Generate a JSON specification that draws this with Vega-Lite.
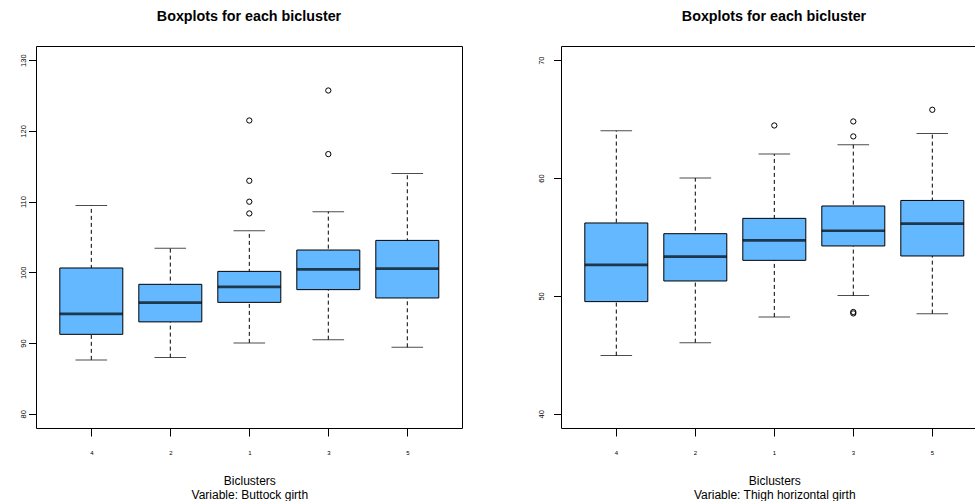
{
  "$schema": "https://vega.github.io/schema/vega-lite/v6.json",
  "background": "white",
  "padding": {"left": 19, "top": 9, "right": 0, "bottom": 0},
  "bounds": "flush",
  "spacing": 99,
  "config": {
    "font": "Liberation Sans",
    "view": {"stroke": "black", "strokeWidth": 1},
    "axis": {
      "grid": false,
      "domain": false,
      "tickColor": "black",
      "tickWidth": 1,
      "labelColor": "black",
      "titleColor": "black",
      "labelFont": "Liberation Sans",
      "titleFont": "Liberation Sans",
      "titleFontWeight": "normal"
    },
    "title": {"font": "Liberation Sans", "fontSize": 14.3, "fontWeight": "bold", "color": "black", "baseline": "alphabetic", "offset": 22}
  },
  "datasets": {
    "buttock": [
      {"cluster": "4", "lower": 87.63, "q1": 91.24, "median": 94.12, "q3": 100.62, "upper": 109.46},
      {"cluster": "2", "lower": 87.95, "q1": 93.0, "median": 95.72, "q3": 98.31, "upper": 103.4},
      {"cluster": "1", "lower": 90.03, "q1": 95.76, "median": 97.94, "q3": 100.14, "upper": 105.89},
      {"cluster": "3", "lower": 90.49, "q1": 97.56, "median": 100.42, "q3": 103.16, "upper": 108.57},
      {"cluster": "5", "lower": 89.41, "q1": 96.38, "median": 100.52, "q3": 104.52, "upper": 113.98}
    ],
    "buttockOut": [
      {"cluster": "1", "value": 121.47},
      {"cluster": "1", "value": 112.95},
      {"cluster": "1", "value": 109.99},
      {"cluster": "1", "value": 108.33},
      {"cluster": "3", "value": 125.71},
      {"cluster": "3", "value": 116.72}
    ],
    "thigh": [
      {"cluster": "4", "lower": 44.94, "q1": 49.52, "median": 52.63, "q3": 56.19, "upper": 64.01},
      {"cluster": "2", "lower": 46.04, "q1": 51.27, "median": 53.33, "q3": 55.28, "upper": 60.0},
      {"cluster": "1", "lower": 48.22, "q1": 53.02, "median": 54.71, "q3": 56.58, "upper": 62.03},
      {"cluster": "3", "lower": 50.03, "q1": 54.24, "median": 55.53, "q3": 57.63, "upper": 62.82},
      {"cluster": "5", "lower": 48.5, "q1": 53.39, "median": 56.13, "q3": 58.1, "upper": 63.78}
    ],
    "thighOut": [
      {"cluster": "1", "value": 64.46},
      {"cluster": "3", "value": 64.8},
      {"cluster": "3", "value": 63.53},
      {"cluster": "3", "value": 48.64},
      {"cluster": "3", "value": 48.52},
      {"cluster": "5", "value": 65.79}
    ]
  },
  "hconcat": [
    {
      "width": 426,
      "height": 382,
      "title": {"text": "Boxplots for each bicluster"},
      "data": {"name": "buttock"},
      "encoding": {
        "x": {
          "field": "cluster",
          "type": "ordinal",
          "sort": ["4", "2", "1", "3", "5"],
          "scale": {"type": "point", "range": [55.3, 371.3], "padding": 0},
          "axis": {
            "title": ["Biclusters", "Variable: Buttock girth"],
            "titleFontSize": 12,
            "titleLineHeight": 13.5,
            "titlePadding": 20.5,
            "labelFontSize": 6,
            "labelAngle": 0,
            "labelPadding": 13,
            "tickSize": 8
          }
        }
      },
      "layer": [
        {
          "mark": {"type": "rule", "color": "black", "strokeWidth": 1, "strokeDash": [4, 3]},
          "encoding": {
            "y": {
              "field": "lower",
              "type": "quantitative",
              "scale": {"domain": [78, 132], "nice": false, "zero": false},
              "axis": {
                "title": null,
                "values": [80, 90, 100, 110, 120, 130],
                "labelAngle": 270,
                "labelAlign": "center",
                "labelBaseline": "alphabetic",
                "labelFontSize": 7.5,
                "labelPadding": 3,
                "tickSize": 7.5
              }
            },
            "y2": {"field": "upper"}
          }
        },
        {
          "mark": {"type": "tick", "color": "black", "thickness": 1, "size": 31.6},
          "encoding": {"y": {"field": "upper", "type": "quantitative", "title": null}}
        },
        {
          "mark": {"type": "tick", "color": "black", "thickness": 1, "size": 31.6},
          "encoding": {"y": {"field": "lower", "type": "quantitative", "title": null}}
        },
        {
          "mark": {"type": "bar", "size": 63, "fill": "#63B8FF", "stroke": "black", "strokeWidth": 1},
          "encoding": {
            "y": {"field": "q1", "type": "quantitative", "title": null},
            "y2": {"field": "q3"}
          }
        },
        {
          "mark": {"type": "tick", "color": "black", "thickness": 2.7, "size": 63},
          "encoding": {"y": {"field": "median", "type": "quantitative", "title": null}}
        },
        {
          "data": {"name": "buttockOut"},
          "mark": {"type": "point", "shape": "circle", "filled": false, "color": "black", "strokeWidth": 1, "size": 28, "opacity": 1},
          "encoding": {"y": {"field": "value", "type": "quantitative", "title": null}}
        }
      ]
    },
    {
      "width": 414,
      "height": 382,
      "view": {"stroke": null},
      "title": {"text": "Boxplots for each bicluster", "dx": 6},
      "data": {"name": "thigh"},
      "resolve": {"axis": {"x": "independent"}},
      "layer": [
        {
          "encoding": {
            "x": {
              "field": "cluster",
              "type": "ordinal",
              "sort": ["4", "2", "1", "3", "5"],
              "scale": {"type": "band", "paddingInner": 0, "paddingOuter": 0.12025, "align": 0.8316},
              "axis": {
                "title": ["Biclusters", "Variable: Thigh horizontal girth"],
                "titleX": 213.3,
                "titleFontSize": 12,
                "titleLineHeight": 13.5,
                "titlePadding": 20.5,
                "labelFontSize": 6,
                "labelAngle": 0,
                "labelPadding": 13,
                "tickSize": 8,
                "domain": true,
                "domainColor": "black",
                "domainWidth": 1
              }
            }
          },
          "layer": [
            {
              "mark": {"type": "rule", "color": "black", "strokeWidth": 1, "strokeDash": [4, 3]},
              "encoding": {
                "y": {
                  "field": "lower",
                  "type": "quantitative",
                  "scale": {"domain": [38.8, 71.2], "nice": false, "zero": false},
                  "axis": {
                    "title": null,
                    "values": [40, 50, 60, 70],
                    "labelAngle": 270,
                    "labelAlign": "center",
                    "labelBaseline": "alphabetic",
                    "labelFontSize": 7.5,
                    "labelPadding": 10,
                    "tickSize": 7.5,
                    "domain": true,
                    "domainColor": "black",
                    "domainWidth": 1
                  }
                },
                "y2": {"field": "upper"}
              }
            },
            {
              "mark": {"type": "tick", "color": "black", "thickness": 1, "size": 31.6},
              "encoding": {"y": {"field": "upper", "type": "quantitative", "title": null}}
            },
            {
              "mark": {"type": "tick", "color": "black", "thickness": 1, "size": 31.6},
              "encoding": {"y": {"field": "lower", "type": "quantitative", "title": null}}
            },
            {
              "mark": {"type": "bar", "width": 63, "fill": "#63B8FF", "stroke": "black", "strokeWidth": 1},
              "encoding": {
                "y": {"field": "q1", "type": "quantitative", "title": null},
                "y2": {"field": "q3"}
              }
            },
            {
              "mark": {"type": "tick", "color": "black", "thickness": 2.7, "size": 63},
              "encoding": {"y": {"field": "median", "type": "quantitative", "title": null}}
            },
            {
              "data": {"name": "thighOut"},
              "mark": {"type": "point", "shape": "circle", "filled": false, "color": "black", "strokeWidth": 1, "size": 28, "opacity": 1},
              "encoding": {"y": {"field": "value", "type": "quantitative", "title": null}}
            }
          ]
        },
        {
          "mark": {"type": "rule", "opacity": 0},
          "encoding": {
            "x": {
              "field": "cluster",
              "type": "ordinal",
              "sort": ["4", "2", "1", "3", "5"],
              "axis": {
                "orient": "top",
                "title": null,
                "labels": false,
                "ticks": false,
                "domain": true,
                "domainColor": "black",
                "domainWidth": 1
              }
            }
          }
        }
      ]
    }
  ]
}
